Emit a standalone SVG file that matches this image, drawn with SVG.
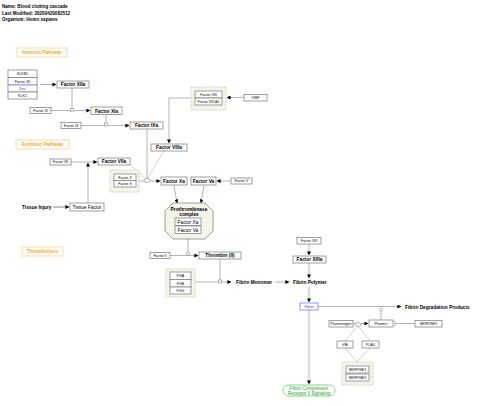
<svg xmlns="http://www.w3.org/2000/svg" width="480" height="406" viewBox="0 0 480 406">
<style>
text{font-family:"Liberation Sans",Arial,sans-serif;fill:#000}
.hd{font-size:4.6px;font-weight:bold}
.b{fill:#fff;stroke:#777;stroke-width:0.7}
.s{font-size:3.6px;text-anchor:middle}
.m{font-size:4.8px;font-weight:bold;text-anchor:middle}
.lab{fill:#fff;stroke:#fdd08a;stroke-width:0.8}
.lt{font-size:4.8px;font-weight:bold;text-anchor:middle;fill:#f5a623}
.grp{fill:#f4f4ea;stroke:#c8c8b0;stroke-width:0.8;stroke-dasharray:1.5,1}
.c{fill:none;stroke:#b4b4b4;stroke-width:1}
.a{marker-end:url(#ah)}
.anc{fill:#fff;stroke:#888;stroke-width:0.6}
</style>
<defs>
<marker id="ah" viewBox="0 0 10 10" refX="9" refY="5" markerWidth="4" markerHeight="4" orient="auto" markerUnits="userSpaceOnUse"><path d="M0,0L10,5L0,10z" fill="#000"/></marker>
</defs>
<g id="header">
<text class="hd" x="2" y="8">Name: Blood clotting cascade</text>
<text class="hd" x="2" y="14.5">Last Modified: 20200420082512</text>
<text class="hd" x="2" y="21">Organism: Homo sapiens</text>
</g>
<g id="connectors">
<path class="c a" d="M40,84.5H56"/>
<path class="c" d="M72,88V109"/>
<path class="c a" d="M51,110.5H90"/>
<path class="c" d="M106,115V124"/>
<path class="c a" d="M81,125.5H129"/>
<path class="c" d="M147,129V179"/>
<path class="c a" d="M191,98H169V143"/>
<path class="c a" d="M244,97.5H227"/>
<path class="c" d="M130,165L147,179.5" style="stroke-width:0.6"/>
<path class="c" d="M164,151L147,179.5" style="stroke-width:0.6"/>
<path class="c a" d="M71,162H97"/>
<path class="c a" d="M88,203V163"/>
<path class="c a" d="M53,207H69" style="stroke:#888"/>
<path class="c a" d="M139,181H160"/>
<path class="c a" d="M231,181H217"/>
<path class="c a" d="M174,185L177,203"/>
<path class="c a" d="M204,185L201,203"/>
<path class="c" d="M188,239V252"/>
<path class="c a" d="M170,255.5H198"/>
<path class="c" d="M220,259V280"/>
<path class="c a" d="M195,282H231"/>
<path class="c a" d="M275,282H289"/>
<path class="c a" d="M309,244V255"/>
<path class="c a" d="M309,263V278"/>
<path class="c a" d="M309,287V302"/>
<path class="c a" d="M318,306.5H401"/>
<path class="c" d="M381,320V311"/>
<path class="c a" d="M353,323.5H368"/>
<path class="c" d="M415,323.5H395M395,320.5V326.5"/>
<path class="c" d="M345,341L358,326M370,341L358,326" style="stroke-width:0.6"/>
<path class="c" d="M357,362L345,348M357,362L370,348" style="stroke-width:0.6"/>
<path class="c a" d="M309,310V384"/>
<rect class="anc" x="70.5" y="108.5" width="3" height="3"/>
<rect class="anc" x="104.5" y="123" width="3" height="3"/>
<ellipse class="anc" cx="147" cy="180.5" rx="3" ry="2"/>
<circle class="anc" cx="188" cy="253.5" r="1.6"/>
<rect class="anc" x="218.5" y="280" width="3" height="3"/>
<circle class="anc" cx="381" cy="309.5" r="1.6"/>
<ellipse class="anc" cx="358" cy="324.5" rx="3" ry="2"/>
</g>
<g id="intrinsic-label"><rect class="lab" x="17" y="48" width="50" height="9"/><text class="lt" x="42" y="54.3">Intrinsic Pathway</text></g>
<g id="extrinsic-label"><rect class="lab" x="16" y="140" width="53" height="9"/><text class="lt" x="42.5" y="146.3">Extrinsic Pathway</text></g>
<g id="thrombolysis-label"><rect class="lab" x="22" y="247" width="41" height="9"/><text class="lt" x="42.5" y="253.3">Thrombolysis</text></g>
<g id="klkb1-stack">
<rect class="b" x="8" y="70" width="29" height="7.5"/><text class="s" x="22.5" y="75">KLKB1</text>
<rect class="b" x="8" y="77.5" width="29" height="7.5"/><text class="s" x="22.5" y="82.5">Factor XII</text>
<rect class="b" x="8" y="85" width="29" height="7" style="stroke:#6666ff"/><text class="s" x="22.5" y="89.8" style="fill:#3333ff">Zinc</text>
<rect class="b" x="8" y="92" width="29" height="7"/><text class="s" x="22.5" y="96.8">KLK1</text>
</g>
<g id="factor-xiia"><rect class="b" x="57" y="81" width="32" height="7"/><text class="m" x="73" y="86.3">Factor XIIa</text></g>
<g id="factor-xi"><rect class="b" x="30" y="107.5" width="21" height="6"/><text class="s" x="40.5" y="111.8">Factor XI</text></g>
<g id="factor-xia"><rect class="b" x="91" y="107" width="31" height="7.5"/><text class="m" x="106.5" y="112.5">Factor XIa</text></g>
<g id="factor-ix"><rect class="b" x="61" y="122.5" width="20" height="6"/><text class="s" x="71" y="126.8">Factor IX</text></g>
<g id="factor-ixa"><rect class="b" x="130" y="122" width="33" height="7"/><text class="m" x="146.5" y="127.3">Factor IXa</text></g>
<g id="factor-viii-group">
<rect class="grp" x="191" y="87" width="35" height="23"/>
<rect class="b" x="195" y="91" width="27" height="7"/><text class="s" x="208.5" y="95.8">Factor VIII</text>
<rect class="b" x="195" y="98" width="27" height="7"/><text class="s" x="208.5" y="102.8">Factor VIII A1</text>
</g>
<g id="vwf"><rect class="b" x="244" y="94.5" width="23" height="6.5"/><text class="s" x="255.5" y="99">VWF</text></g>
<g id="factor-viiia"><rect class="b" x="151" y="144" width="36" height="7"/><text class="m" x="169" y="149.3">Factor VIIIa</text></g>
<g id="factor-vii"><rect class="b" x="50" y="159" width="21" height="6"/><text class="s" x="60.5" y="163.3">Factor VII</text></g>
<g id="factor-viia"><rect class="b" x="98" y="158" width="32" height="7"/><text class="m" x="114" y="163.3">Factor VIIa</text></g>
<g id="tissue-factor"><rect class="b" x="70" y="203" width="34" height="8"/><text class="m" x="87" y="208.8" style="font-weight:normal">Tissue Factor</text></g>
<g id="tissue-injury"><text x="22" y="208.8" style="font-size:4.8px;font-weight:bold">Tissue Injury</text></g>
<g id="factor-x-group">
<rect class="grp" x="110" y="170" width="29" height="22"/>
<rect class="b" x="114" y="174" width="22" height="6.5"/><text class="s" x="125" y="178.5">Factor X</text>
<rect class="b" x="114" y="180.5" width="22" height="6.5"/><text class="s" x="125" y="185">Factor X</text>
</g>
<g id="factor-xa"><rect class="b" x="161" y="177" width="26" height="8"/><text class="m" x="174" y="182.8">Factor Xa</text></g>
<g id="factor-va"><rect class="b" x="191" y="177" width="25" height="8"/><text class="m" x="203.5" y="182.8">Factor Va</text></g>
<g id="factor-v"><rect class="b" x="231" y="178" width="21" height="6"/><text class="s" x="241.5" y="182.3">Factor V</text></g>
<g id="prothrombinase">
<polygon points="173,203 205,203 213,211 213,231 205,239 173,239 165,231 165,211" style="fill:#f4f4ea;stroke:#888;stroke-width:0.8"/>
<text class="m" x="189" y="210.5">Prothrombinase</text>
<text class="m" x="189" y="216">complex</text>
<rect class="b" x="175" y="218" width="26" height="7.5"/><text class="m" x="188" y="223.5" style="font-weight:normal">Factor Xa</text>
<rect class="b" x="175" y="226" width="26" height="7.5"/><text class="m" x="188" y="231.5" style="font-weight:normal">Factor Va</text>
</g>
<g id="factor-ii"><rect class="b" x="150" y="252.5" width="20" height="6"/><text class="s" x="160" y="256.8">Factor II</text></g>
<g id="thrombin"><rect class="b" x="199" y="252" width="42" height="7"/><text class="m" x="220" y="257.3">Thrombin (II)</text></g>
<g id="fibrinogen-group">
<rect class="grp" x="166" y="269" width="29" height="28"/>
<rect class="b" x="170" y="272" width="21" height="7.5"/><text class="s" x="180.5" y="277">FGA</text>
<rect class="b" x="170" y="279.5" width="21" height="7.5"/><text class="s" x="180.5" y="284.5">FGB</text>
<rect class="b" x="170" y="287" width="21" height="7"/><text class="s" x="180.5" y="291.8">FGG</text>
</g>
<g id="fibrin-monomer"><text x="236" y="284" style="font-size:4.8px;font-weight:bold">Fibrin Monomer</text></g>
<g id="fibrin-polymer"><text x="293" y="284" style="font-size:4.8px;font-weight:bold">Fibrin Polymer</text></g>
<g id="factor-xiii"><rect class="b" x="297" y="237.5" width="24" height="6.5"/><text class="s" x="309" y="242">Factor XIII</text></g>
<g id="factor-xiiia"><rect class="b" x="293" y="256" width="33" height="7"/><text class="m" x="309.5" y="261.3">Factor XIIIa</text></g>
<g id="fibrin"><rect class="b" x="300" y="303" width="18" height="7" style="stroke:#6666ff"/><text class="s" x="309" y="307.8" style="fill:#3333ff">Fibrin</text></g>
<g id="fdp"><text x="405" y="308.5" style="font-size:4.8px;font-weight:bold">Fibrin Degradation Products</text></g>
<g id="plasminogen"><rect class="b" x="329" y="320.5" width="24" height="6.5"/><text class="s" x="341" y="325">Plasminogen</text></g>
<g id="plasmin"><rect class="b" x="369" y="320" width="24" height="7"/><text class="s" x="381" y="324.8">Plasmin</text></g>
<g id="serpinf2"><rect class="b" x="415" y="320.5" width="27" height="6.5"/><text class="s" x="428.5" y="325">SERPINF2</text></g>
<g id="tpa"><rect class="b" x="337" y="341" width="16" height="7"/><text class="s" x="345" y="345.8">tPA</text></g>
<g id="plau"><rect class="b" x="362" y="341" width="17" height="7"/><text class="s" x="370.5" y="345.8">PLAU</text></g>
<g id="serpine-group">
<rect class="grp" x="342" y="362" width="31" height="23"/>
<rect class="b" x="346" y="366" width="23" height="7"/><text class="s" x="357.5" y="370.8">SERPINE1</text>
<rect class="b" x="346" y="374" width="23" height="7"/><text class="s" x="357.5" y="378.8">SERPINE2</text>
</g>
<g id="fibrin-cr3">
<rect x="283" y="385" width="52" height="11" rx="5.5" style="fill:#fff;stroke:#66cc66;stroke-width:0.8"/>
<text x="309" y="389.8" style="font-size:4.6px;text-anchor:middle;fill:#2e9e2e">Fibrin Complement</text>
<text x="309" y="394.6" style="font-size:4.6px;text-anchor:middle;fill:#2e9e2e">Receptor 3 Signaling</text>
</g>
</svg>
